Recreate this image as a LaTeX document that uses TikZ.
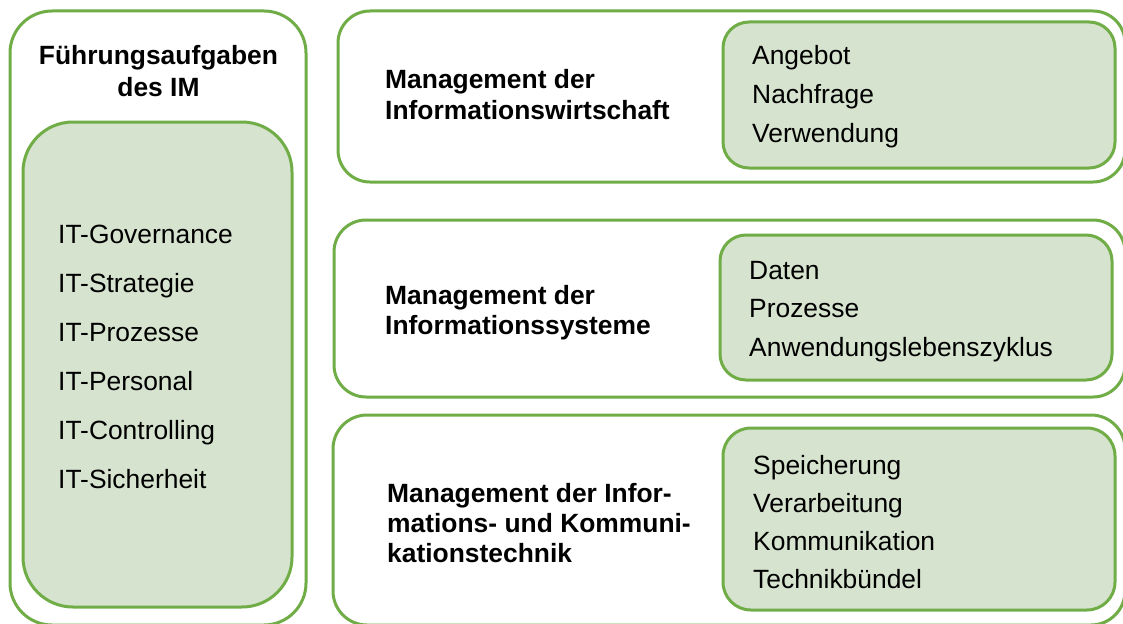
\documentclass[tikz,border=0pt]{standalone}
\usepackage{fontspec}
\setmainfont{Liberation Sans}
\definecolor{imgreen}{HTML}{70AD47}
\definecolor{imfill}{HTML}{D6E3CE}
\begin{document}
\begin{tikzpicture}[x=1pt,y=-1pt,
  outerbox/.style={draw=imgreen, line width=3pt, fill=white, rounded corners=#1,
    inner sep=0pt, outer sep=0pt, anchor=north west},
  greenbox/.style={draw=imgreen, line width=3pt, fill=imfill, rounded corners=#1,
    inner sep=0pt, outer sep=0pt, anchor=north west},
  item/.style={inner sep=0pt, anchor=base west, font=\fontsize{26.4}{30}\selectfont},
  head/.style={inner sep=0pt, anchor=base west, font=\fontsize{26.4}{30}\selectfont\bfseries},
]
\useasboundingbox (0,0) rectangle (1123,623);
\clip (0,0) rectangle (1123,623);

% left column: leadership tasks
\node[outerbox=42, minimum width=296pt, minimum height=614pt] (lead) at (10,11) {};
\node[greenbox=50, minimum width=269pt, minimum height=485pt] (leadlist) at (23,122) {};
\node[head, anchor=base] (leadt1) at (158.5,65) {Führungsaufgaben};
\node[head, anchor=base] (leadt2) at (158.5,97) {des IM};
\foreach \t [count=\i] in {IT-Governance,IT-Strategie,IT-Prozesse,IT-Personal,IT-Controlling,IT-Sicherheit}
  \node[item] (lead-\i) at (58,{243+49*(\i-1)}) {\t};

% information economy
\node[outerbox=32, minimum width=787pt, minimum height=171pt] (iw) at (338,11) {};
\node[greenbox=26, minimum width=392pt, minimum height=146pt] (iwlist) at (723,22) {};
\node[head] (iwt1) at (385,89) {Management der};
\node[head] (iwt2) at (385,119) {Informationswirtschaft};
\foreach \t [count=\i] in {Angebot,Nachfrage,Verwendung}
  \node[item] (iw-\i) at (752,{65+38.5*(\i-1)}) {\t};

% information systems
\node[outerbox=32, minimum width=791pt, minimum height=177pt] (is) at (334,220) {};
\node[greenbox=26, minimum width=392pt, minimum height=145pt] (islist) at (720,235) {};
\node[head] (ist1) at (385,304) {Management der};
\node[head] (ist2) at (385,334) {Informationssysteme};
\foreach \t [count=\i] in {Daten,Prozesse,Anwendungslebenszyklus}
  \node[item] (is-\i) at (749,{279+38.5*(\i-1)}) {\t};

% information and communication technology
\node[outerbox=34, minimum width=792pt, minimum height=210pt] (ikt) at (333,415) {};
\node[greenbox=28, minimum width=392pt, minimum height=182pt] (iktlist) at (723,428) {};
\node[head] (iktt1) at (387,502) {Management der Infor-};
\node[head] (iktt2) at (387,532) {mations- und Kommuni-};
\node[head] (iktt3) at (387,562) {kationstechnik};
\foreach \t [count=\i] in {Speicherung,Verarbeitung,Kommunikation,Technikbündel}
  \node[item] (ikt-\i) at (753,{474+38*(\i-1)}) {\t};
\end{tikzpicture}
\end{document}
